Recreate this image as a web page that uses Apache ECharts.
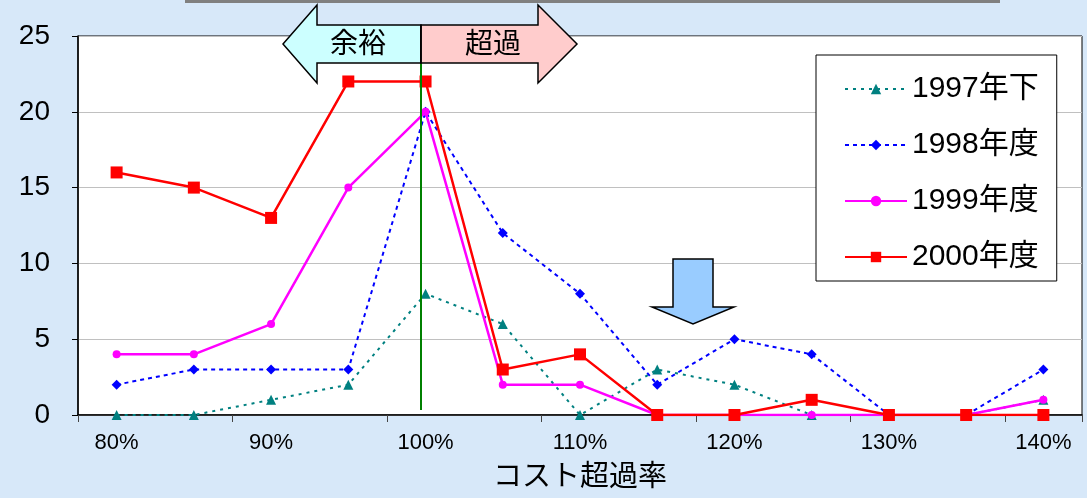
<!DOCTYPE html>
<html>
<head>
<meta charset="utf-8">
<script src="https://cdn.jsdelivr.net/npm/echarts@6/dist/echarts.min.js"></script>
<style>
  html, body { margin: 0; padding: 0; background: #d7e8f9; }
  #chart { width: 1087px; height: 498px; }
</style>
</head>
<body>
<div id="chart"></div>
<script>
// Cost overrun rate buckets (x axis)
const categories = ['80%', '85%', '90%', '95%', '100%', '105%', '110%', '115%', '120%', '125%', '130%', '135%', '140%'];
// Number of projects per bucket, by fiscal period
const s1997 = [0, 0, 1, 2, 8, 6, 0, 3, 2, 0, 0, 0, 1];
const s1998 = [2, 3, 3, 3, 20, 12, 8, 2, 5, 4, 0, 0, 3];
const s1999 = [4, 4, 6, 15, 20, 2, 2, 0, 0, 0, 0, 0, 1];
const s2000 = [16, 15, 13, 22, 22, 3, 4, 0, 0, 1, 0, 0, 0];
const seriesNames = ['1997年下', '1998年度', '1999年度', '2000年度'];
const yTicks = [0, 5, 10, 15, 20, 25];

const FONT = "'Liberation Sans', Arial, 'Noto Sans CJK JP', sans-serif";

const chart = echarts.init(document.getElementById('chart'));

const option = {
  backgroundColor: '#d7e8f9',
  animation: false,
  textStyle: { fontFamily: FONT },
  grid: {
    left: 78, right: 5, top: 36, bottom: 79,
    show: true, backgroundColor: '#ffffff', borderColor: '#000000', borderWidth: 1
  },
  legend: {
    data: seriesNames,
    orient: 'vertical',
    left: 816, top: 55,
    backgroundColor: '#ffffff',
    borderColor: '#000000', borderWidth: 1, borderRadius: 0,
    padding: [18, 18, 8, 28],
    itemWidth: 62, itemHeight: 13, itemGap: 24, itemTextGap: 14,
    textStyle: { fontSize: 30, color: '#000', fontFamily: FONT, lineHeight: 32 }
  },
  xAxis: {
    type: 'category',
    data: categories,
    boundaryGap: true,
    name: 'コスト超過率',
    nameLocation: 'middle',
    nameGap: 49,
    nameTextStyle: { fontSize: 29, color: '#000', fontFamily: FONT },
    axisLine: { lineStyle: { color: '#000', width: 1.5 } },
    axisTick: { show: true, inside: false, length: 7, alignWithLabel: false, lineStyle: { color: '#444' } },
    axisLabel: {
      fontSize: 22, color: '#000', margin: 17,
      interval: 1
    },
    splitLine: { show: false }
  },
  yAxis: {
    type: 'value',
    min: yTicks[0], max: yTicks[yTicks.length - 1], interval: 5,
    axisLine: { show: true, lineStyle: { color: '#000', width: 1.5 } },
    axisTick: { show: true, length: 6, lineStyle: { color: '#000' } },
    axisLabel: { fontSize: 28, color: '#000', margin: 28 },
    splitLine: { show: true, lineStyle: { color: '#c0c0c0', width: 1 } }
  },
  series: [
    {
      name: seriesNames[0], type: 'line', data: s1997,
      symbol: 'triangle', symbolSize: 10,
      lineStyle: { color: '#008080', width: 2, type: [3, 5] },
      itemStyle: { color: '#008080' }, z: 2
    },
    {
      name: seriesNames[1], type: 'line', data: s1998,
      symbol: 'diamond', symbolSize: 10,
      lineStyle: { color: '#0000ff', width: 2, type: [4, 4] },
      itemStyle: { color: '#0000ff' }, z: 3
    },
    {
      name: seriesNames[2], type: 'line', data: s1999,
      symbol: 'circle', symbolSize: 8,
      lineStyle: { color: '#ff00ff', width: 2.5 },
      itemStyle: { color: '#ff00ff' }, z: 4
    },
    {
      name: seriesNames[3], type: 'line', data: s2000,
      symbol: 'rect', symbolSize: 12,
      lineStyle: { color: '#ff0000', width: 2.5 },
      itemStyle: { color: '#ff0000' }, z: 5
    }
  ],
  graphic: [
    // thin grey bar along the top edge
    { type: 'rect', shape: { x: 185, y: 0, width: 815, height: 3 }, style: { fill: '#808080' }, z: 100 },
    // budget boundary (green vertical)
    { type: 'line', shape: { x1: 421, y1: 63, x2: 421, y2: 410 }, style: { stroke: '#008000', lineWidth: 2 }, z: 90 },
    // "余裕" left-pointing half arrow
    {
      type: 'polygon',
      shape: { points: [[421, 25], [317, 25], [317, 5], [283, 44], [317, 83], [317, 63], [421, 63]] },
      style: { fill: '#ccffff', stroke: '#000', lineWidth: 1.5 }, z: 100
    },
    // "超過" right-pointing half arrow
    {
      type: 'polygon',
      shape: { points: [[421, 25], [538, 25], [538, 5], [577, 44], [538, 83], [538, 63], [421, 63]] },
      style: { fill: '#ffcccc', stroke: '#000', lineWidth: 1.5 }, z: 100
    },
    { type: 'line', shape: { x1: 421, y1: 25, x2: 421, y2: 63 }, style: { stroke: '#000', lineWidth: 1.5 }, z: 101 },
    {
      type: 'text', x: 358, y: 45, z: 102,
      style: { text: '余裕', fontSize: 28, fontFamily: FONT, fill: '#000', align: 'center', verticalAlign: 'middle' }
    },
    {
      type: 'text', x: 493, y: 45, z: 102,
      style: { text: '超過', fontSize: 28, fontFamily: FONT, fill: '#000', align: 'center', verticalAlign: 'middle' }
    },
    // down arrow pointing at the overrun tail
    {
      type: 'polygon',
      shape: { points: [[673, 259], [713, 259], [713, 307], [734, 307], [693, 324], [652, 307], [673, 307]] },
      style: { fill: '#99ccff', stroke: '#000', lineWidth: 1.5 }, z: 100
    }
  ]
};

chart.setOption(option);
</script>
</body>
</html>
